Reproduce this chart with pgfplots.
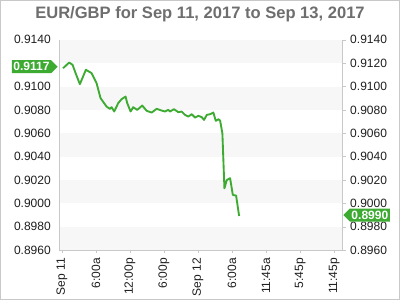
\documentclass[border=0pt]{standalone}
\usepackage{pgfplots}
\pgfplotsset{compat=1.18}
\usepackage{fontspec}
\setmainfont{Liberation Sans}
\usetikzlibrary{shapes.symbols}
\definecolor{oanda}{RGB}{61,170,50}
\definecolor{band}{RGB}{247,247,247}
\definecolor{axgray}{RGB}{200,200,200}
\definecolor{titlegray}{RGB}{110,110,110}
\definecolor{ticktext}{RGB}{30,30,30}
\begin{document}
\begin{tikzpicture}
\draw[axgray] (0.4pt,0.4pt) rectangle (299.6pt,224.6pt);
\node[anchor=base, font=\bfseries\fontsize{12.4}{14}\selectfont, text=titlegray] at (150pt,210.75pt) {EUR/GBP for Sep 11, 2017 to Sep 13, 2017};
\node[text=gray!28, font=\fontsize{10.5}{12}\selectfont, anchor=west] at (213pt,46.5pt) {OANDA};
\node[circle, fill=gray!28, text=white, inner sep=0.8pt, font=\bfseries\fontsize{6}{7}\selectfont] at (206.5pt,46.5pt) {N};
\begin{axis}[
  at={(44.25pt,37.5pt)}, anchor=south west,
  scale only axis, width=212.25pt, height=157.5pt,
  xmin=-0.53, xmax=49.4, ymin=0.8960, ymax=0.9140,
  axis line style={axgray},
  clip=false,
  xtick={0,6,12,18,24,30,36,42,48},
  xticklabels={Sep 11,6:00a,12:00p,6:00p,Sep 12,6:00a,11:45a,5:45p,11:45p},
  xtick pos=bottom, tick align=outside, major tick length=2.5pt,
  xtick style={axgray},
  x tick label style={rotate=90, anchor=east, font=\fontsize{9}{10}\selectfont, text=ticktext},
  ytick={0.8960,0.8980,0.9000,0.9020,0.9040,0.9060,0.9080,0.9100,0.9120,0.9140},
  yticklabels={0.8960,0.8980,0.9000,0.9020,0.9040,0.9060,0.9080,0.9100,,0.9140},
  ytick pos=left, ytick style={draw=none},
  scaled y ticks=false,
  y tick label style={font=\fontsize{9}{10}\selectfont, text=ticktext},
]
\fill[band] (axis cs:-0.53,0.9120) rectangle (axis cs:49.4,0.9140);
\fill[band] (axis cs:-0.53,0.9080) rectangle (axis cs:49.4,0.9100);
\fill[band] (axis cs:-0.53,0.9040) rectangle (axis cs:49.4,0.9060);
\fill[band] (axis cs:-0.53,0.9000) rectangle (axis cs:49.4,0.9020);
\fill[band] (axis cs:-0.53,0.8960) rectangle (axis cs:49.4,0.8980);
\addplot[oanda, line width=1.4pt, line join=round] coordinates {
(0.23,0.91157) (1.29,0.91205) (1.89,0.91186) (2.47,0.91109) (3.18,0.91020)
(4.24,0.91143) (5.24,0.91115) (6.12,0.91029) (6.83,0.90900) (7.89,0.90828)
(8.47,0.90809) (8.77,0.90823) (9.23,0.90786) (9.94,0.90858) (10.54,0.90892)
(11.24,0.90914) (11.52,0.90858) (12.12,0.90786) (12.58,0.90823) (13.29,0.90800)
(14.17,0.90837) (14.95,0.90792) (15.83,0.90777) (16.71,0.90809) (17.60,0.90794)
(18.18,0.90786) (18.76,0.90800) (19.06,0.90786) (19.76,0.90806) (20.53,0.90780)
(21.12,0.90786) (21.71,0.90757) (22.29,0.90743) (22.89,0.90763) (23.47,0.90734)
(24.06,0.90749) (24.65,0.90738) (25.06,0.90714) (25.54,0.90757) (26.12,0.90763)
(26.70,0.90777) (27.13,0.90706) (27.59,0.90720) (27.89,0.90708) (28.29,0.90600)
(28.65,0.90129) (29.07,0.90200) (29.65,0.90215) (30.13,0.90072) (30.71,0.90066)
(31.24,0.89892)
};
\node[signal, signal to=east, fill=oanda, text=white, anchor=east, inner sep=1.2pt,
  minimum height=9.75pt, font=\bfseries\fontsize{9}{10}\selectfont]
  at (axis cs:-0.53,0.9117) [xshift=-0.6pt] {0.9117};
\end{axis}
\begin{axis}[
  at={(44.25pt,37.5pt)}, anchor=south west,
  scale only axis, width=212.25pt, height=157.5pt,
  xmin=-0.53, xmax=49.4, ymin=0.8960, ymax=0.9140,
  hide x axis, clip=false,
  axis line style={axgray},
  ytick={0.8960,0.8980,0.9000,0.9020,0.9040,0.9060,0.9080,0.9100,0.9120,0.9140},
  yticklabels={0.8960,0.8980,0.9000,0.9020,0.9040,0.9060,0.9080,0.9100,0.9120,0.9140},
  ytick pos=right, yticklabel pos=right,
  tick align=outside, major tick length=2.5pt, ytick style={axgray},
  scaled y ticks=false,
  y tick label style={font=\fontsize{9}{10}\selectfont, text=ticktext},
]
\node[signal, signal to=west, fill=oanda, text=white, anchor=west, inner sep=1.2pt,
  minimum height=9.75pt, font=\bfseries\fontsize{9}{10}\selectfont]
  at (axis cs:49.4,0.8990) [xshift=0.6pt] {0.8990};
\end{axis}
\end{tikzpicture}
\end{document}
